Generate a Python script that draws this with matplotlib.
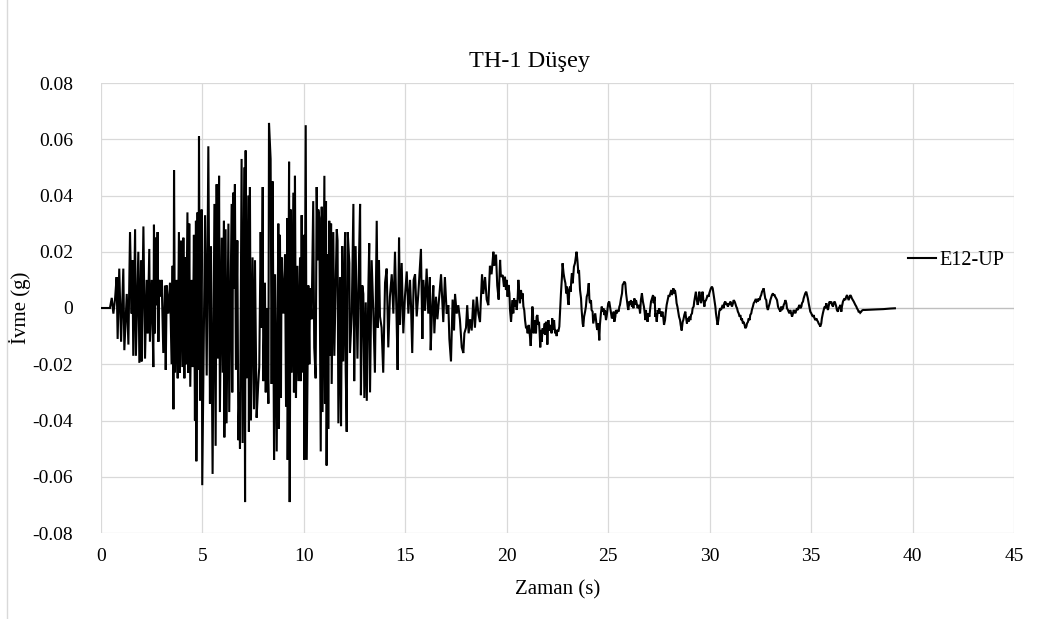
import matplotlib
matplotlib.use("Agg")
import matplotlib.pyplot as plt
from matplotlib.lines import Line2D
from matplotlib.ticker import FixedLocator, FuncFormatter

plt.rcParams["font.family"] = ["Liberation Serif", "DejaVu Serif"]

title = "TH-1 Düşey"
x_label = "Zaman (s)"
y_label = "İvme (g)"
series_name = "E12-UP"
x_ticks = [0, 5, 10, 15, 20, 25, 30, 35, 40, 45]
y_ticks = [-0.08, -0.06, -0.04, -0.02, 0.0, 0.02, 0.04, 0.06, 0.08]

# (time [s], vertical acceleration [g]) — strong-motion onset, 0–5 s
seg_0_5 = [
    (0.00, 0.0), (0.44, 0.0), (0.53, 0.0036), (0.61, -0.002), (0.69, 0.003),
    (0.77, 0.011), (0.82, -0.011), (0.90, 0.014), (0.99, -0.012), (1.10, 0.014),
    (1.15, -0.015), (1.27, 0.005), (1.35, -0.013), (1.43, 0.027), (1.51, -0.002),
    (1.55, 0.017), (1.59, -0.017), (1.68, 0.028), (1.72, -0.017), (1.84, 0.020),
    (1.89, -0.0195), (1.97, 0.017), (2.00, -0.019), (2.09, 0.029), (2.17, -0.018),
    (2.25, 0.010), (2.30, -0.009), (2.38, 0.021), (2.41, -0.012), (2.50, 0.010),
    (2.58, -0.021), (2.61, 0.0296), (2.66, -0.009), (2.71, 0.025), (2.74, 0.001),
    (2.79, 0.027), (2.83, -0.012), (2.86, 0.010), (2.94, 0.004), (2.99, 0.010),
    (3.07, -0.016), (3.15, 0.008), (3.19, -0.022), (3.24, 0.008), (3.32, -0.002),
    (3.40, 0.009), (3.48, -0.020), (3.53, 0.015), (3.57, -0.036), (3.60, 0.049),
    (3.65, -0.023), (3.73, 0.010), (3.78, -0.025), (3.84, 0.027), (3.89, -0.023),
    (3.94, 0.024), (4.01, -0.021), (4.06, 0.025), (4.11, -0.025), (4.14, 0.018),
    (4.19, -0.020), (4.26, 0.034), (4.30, -0.023), (4.35, 0.030), (4.40, -0.028),
    (4.47, 0.010), (4.52, -0.021), (4.58, 0.026), (4.63, -0.040), (4.68, 0.031),
    (4.70, -0.0545), (4.76, 0.034), (4.80, -0.022), (4.83, 0.061), (4.88, -0.033),
    (4.96, 0.035), (4.99, -0.063),
]

# peak shaking, 5–10 s
seg_5_10 = [
    (5.13, 0.033), (5.21, -0.024), (5.29, 0.0575), (5.37, -0.034), (5.42, 0.022),
    (5.50, -0.059), (5.59, 0.037), (5.65, -0.049), (5.70, 0.044), (5.75, -0.018),
    (5.82, 0.047), (5.86, -0.037), (5.95, 0.025), (6.00, -0.023), (6.06, 0.031),
    (6.08, -0.046), (6.14, 0.028), (6.19, -0.041), (6.28, 0.030), (6.32, -0.037),
    (6.44, 0.037), (6.47, -0.030), (6.52, 0.041), (6.55, 0.007), (6.60, 0.044),
    (6.65, -0.022), (6.72, 0.024), (6.77, -0.047), (6.82, -0.030), (6.85, -0.050),
    (6.93, 0.053), (6.98, -0.048), (7.06, 0.050), (7.10, -0.069), (7.13, 0.056),
    (7.18, -0.025), (7.26, 0.040), (7.29, -0.044), (7.34, 0.043), (7.39, -0.040),
    (7.47, 0.018), (7.54, -0.036), (7.59, 0.017), (7.67, -0.039), (7.75, -0.027),
    (7.80, -0.021), (7.87, 0.027), (7.92, -0.007), (7.97, 0.043), (8.00, -0.026),
    (8.08, 0.009), (8.12, -0.030), (8.17, 0.0), (8.25, -0.034), (8.28, 0.0658),
    (8.36, 0.053), (8.41, -0.027), (8.46, 0.045), (8.53, -0.054), (8.58, 0.012),
    (8.66, -0.051), (8.74, 0.030), (8.77, -0.043), (8.82, 0.026), (8.87, -0.032),
    (8.90, 0.018), (8.99, -0.002), (9.07, 0.019), (9.12, -0.035), (9.18, 0.032),
    (9.20, -0.054), (9.27, 0.052), (9.30, -0.069), (9.35, 0.035), (9.40, -0.023),
    (9.48, 0.041), (9.51, -0.030), (9.56, 0.047), (9.61, -0.032), (9.68, 0.015),
    (9.73, -0.026), (9.81, 0.018), (9.84, -0.026), (9.89, 0.033), (9.94, -0.023),
    (10.00, 0.026), (10.02, -0.054), (10.09, 0.065), (10.14, -0.054),
]

# decaying strong motion, 10–15.5 s
seg_10_15 = [
    (10.22, 0.008), (10.27, -0.020), (10.30, 0.007), (10.38, -0.004), (10.46, 0.038),
    (10.51, -0.014), (10.58, -0.025), (10.63, 0.043), (10.68, 0.017), (10.71, 0.035),
    (10.76, 0.032), (10.83, -0.051), (10.88, 0.036), (10.92, -0.037), (11.01, 0.047),
    (11.04, -0.034), (11.09, 0.038), (11.12, -0.056), (11.17, 0.019), (11.20, -0.043),
    (11.25, 0.031), (11.29, -0.017), (11.34, 0.030), (11.37, -0.027), (11.45, 0.027),
    (11.50, -0.017), (11.57, 0.010), (11.62, 0.028), (11.66, 0.024), (11.70, -0.041),
    (11.78, 0.011), (11.83, -0.042), (11.89, 0.022), (11.94, -0.019), (12.03, 0.027),
    (12.06, -0.022), (12.11, -0.044), (12.16, 0.027), (12.24, 0.016), (12.27, -0.016),
    (12.36, -0.002), (12.44, 0.037), (12.48, -0.026), (12.55, 0.022), (12.64, -0.018),
    (12.72, 0.019), (12.77, 0.037), (12.81, -0.031), (12.88, 0.008), (12.93, 0.005),
    (12.98, -0.032), (13.05, 0.002), (13.10, -0.033), (13.18, 0.008), (13.22, 0.023),
    (13.26, -0.030), (13.34, 0.017), (13.42, -0.001), (13.50, -0.023), (13.55, 0.007),
    (13.59, 0.031), (13.64, -0.007), (13.70, 0.017), (13.75, -0.003), (13.83, -0.007),
    (13.91, -0.023), (14.00, 0.009), (14.08, 0.014), (14.16, -0.014), (14.24, 0.004),
    (14.33, 0.012), (14.41, -0.002), (14.49, 0.020), (14.57, -0.004), (14.62, -0.022),
    (14.69, 0.025), (14.74, -0.006), (14.82, 0.016), (14.90, -0.009), (14.98, 0.004),
    (15.07, 0.013), (15.15, -0.002), (15.23, 0.010), (15.28, 0.001), (15.34, -0.016),
    (15.41, 0.010),
]

# transition to long-period motion, 15.5–19.6 s
seg_15_19 = [
    (15.48, 0.012), (15.56, -0.003), (15.64, 0.005), (15.72, 0.015), (15.77, 0.021),
    (15.84, -0.011), (15.89, 0.010), (15.97, -0.001), (16.05, 0.014), (16.13, -0.002),
    (16.21, 0.011), (16.25, -0.015), (16.31, -0.002), (16.38, 0.008), (16.43, -0.009),
    (16.51, 0.004), (16.58, -0.004), (16.68, 0.005), (16.76, 0.012), (16.81, 0.004),
    (16.87, -0.005), (16.95, 0.011), (17.04, -0.002), (17.12, 0.001), (17.17, -0.011),
    (17.25, -0.019), (17.33, 0.003), (17.40, -0.008), (17.45, 0.005), (17.53, -0.002),
    (17.61, 0.001), (17.69, -0.004), (17.78, -0.014), (17.86, -0.016), (17.91, -0.009),
    (17.99, -0.007), (18.05, 0.001), (18.12, -0.009), (18.19, -0.004), (18.27, -0.008),
    (18.35, 0.003), (18.43, -0.007), (18.52, 0.004), (18.60, -0.002), (18.68, -0.005),
    (18.73, 0.004), (18.78, 0.012), (18.84, 0.005), (18.93, 0.011), (19.01, 0.003),
    (19.09, 0.001), (19.17, 0.015), (19.25, 0.012), (19.34, 0.020), (19.38, 0.015),
    (19.47, 0.019), (19.53, 0.008), (19.60, 0.003),
]

# coda, 19.7–26.5 s
seg_19_26 = [
    (19.67, 0.0171), (19.71, 0.0111), (19.80, 0.0117), (19.86, 0.0076), (19.91, 0.0111),
    (19.96, 0.0064), (19.99, 0.0100), (20.04, 0.0040), (20.08, 0.0082), (20.13, 0.0052),
    (20.16, -0.0007), (20.21, -0.0049), (20.26, 0.0005), (20.29, 0.0028), (20.32, -0.0019),
    (20.36, 0.0034), (20.40, 0.0005), (20.45, 0.0028), (20.49, -0.0007), (20.54, 0.0040),
    (20.57, 0.0100), (20.62, 0.0046), (20.65, 0.0017), (20.70, 0.0064), (20.75, 0.0034),
    (20.78, 0.0052), (20.82, 0.0005), (20.86, -0.0007), (20.90, -0.0043), (20.95, -0.0072),
    (20.98, -0.0066), (21.03, -0.0090), (21.08, -0.0060), (21.11, -0.0078), (21.14, -0.0100),
    (21.18, -0.0135), (21.23, -0.0055), (21.26, 0.0005), (21.29, -0.0013), (21.32, -0.0090),
    (21.36, -0.0078), (21.39, -0.0043), (21.44, -0.0090), (21.47, -0.0031), (21.51, -0.0025),
    (21.55, -0.0060), (21.59, -0.0049), (21.62, -0.0090), (21.65, -0.0140), (21.69, -0.0078),
    (21.72, -0.0120), (21.77, -0.0072), (21.80, -0.0090), (21.83, -0.0078), (21.87, -0.0055),
    (21.90, -0.0096), (21.93, -0.0049), (21.97, -0.0072), (22.00, -0.0130), (22.05, -0.0043),
    (22.08, -0.0078), (22.13, -0.0078), (22.16, -0.0060), (22.21, -0.0090), (22.24, -0.0037),
    (22.29, -0.0078), (22.33, -0.0043), (22.38, -0.0090), (22.41, -0.0078), (22.46, -0.0100),
    (22.49, -0.0078), (22.54, -0.0084), (22.59, -0.0066), (22.62, -0.0019), (22.67, 0.0052),
    (22.72, 0.0111), (22.75, 0.0159), (22.80, 0.0123), (22.84, 0.0105), (22.89, 0.0088),
    (22.93, 0.0052), (22.97, 0.0076), (23.02, 0.0023), (23.05, 0.0011), (23.08, 0.0064),
    (23.12, 0.0076), (23.15, 0.0058), (23.18, 0.0100), (23.21, 0.0123), (23.25, 0.0088),
    (23.28, 0.0117), (23.31, 0.0147), (23.36, 0.0159), (23.41, 0.0183), (23.44, 0.0200),
    (23.48, 0.0171), (23.53, 0.0123), (23.56, 0.0135), (23.61, 0.0064), (23.66, 0.0034),
    (23.69, -0.0007), (23.74, -0.0055), (23.77, -0.0066), (23.81, -0.0031), (23.86, -0.0013),
    (23.90, 0.0005), (23.94, 0.0040), (23.99, 0.0052), (24.04, 0.0088), (24.07, 0.0034),
    (24.10, 0.0017), (24.15, 0.0028), (24.18, -0.0007), (24.23, -0.0013), (24.26, -0.0055),
    (24.31, -0.0037), (24.36, -0.0019), (24.40, -0.0043), (24.43, -0.0066), (24.46, -0.0078),
    (24.51, -0.0055), (24.56, -0.0115), (24.59, -0.0060), (24.64, -0.0019), (24.68, 0.0005),
    (24.73, -0.0013), (24.76, -0.0001), (24.81, -0.0025), (24.84, -0.0007), (24.89, -0.0043),
    (24.92, -0.0031), (24.97, -0.0001), (25.00, 0.0017), (25.05, 0.0023), (25.09, 0.0005),
    (25.14, -0.0019), (25.18, -0.0037), (25.22, -0.0031), (25.27, -0.0013), (25.30, -0.0049),
    (25.35, -0.0031), (25.38, -0.0007), (25.43, -0.0019), (25.46, -0.0007), (25.51, -0.0013),
    (25.55, 0.0005), (25.58, 0.0011), (25.63, 0.0034), (25.68, 0.0052), (25.71, 0.0082),
    (25.76, 0.0088), (25.79, 0.0094), (25.84, 0.0088), (25.88, 0.0052), (25.91, 0.0034),
    (25.96, 0.0005), (25.99, -0.0007), (26.04, 0.0023), (26.07, 0.0011), (26.12, 0.0028),
    (26.17, 0.0005), (26.20, 0.0023), (26.24, -0.0001), (26.29, 0.0034), (26.34, 0.0011),
    (26.37, 0.0028), (26.42, 0.0011), (26.45, -0.0001), (26.50, 0.0011), (26.53, 0.0005),
]

# late coda, 26.6–32.7 s
seg_26_32 = [
    (26.57, -0.0019), (26.61, 0.0028), (26.66, 0.0052), (26.71, 0.0023), (26.76, 0.0005),
    (26.80, -0.0019), (26.83, -0.0043), (26.86, -0.0007), (26.89, -0.0031), (26.94, -0.0049),
    (26.98, -0.0019), (27.03, -0.0031), (27.07, -0.0001), (27.11, 0.0023), (27.16, 0.0034),
    (27.21, 0.0046), (27.24, 0.0017), (27.29, 0.0040), (27.32, -0.0031), (27.35, -0.0019),
    (27.39, -0.0049), (27.44, -0.0007), (27.47, -0.0019), (27.52, -0.0001), (27.55, -0.0019),
    (27.58, -0.0013), (27.63, -0.0031), (27.67, -0.0013), (27.72, -0.0037), (27.75, -0.0060),
    (27.80, -0.0043), (27.83, -0.0019), (27.88, 0.0011), (27.93, 0.0028), (27.98, 0.0046),
    (28.01, 0.0040), (28.06, 0.0052), (28.11, 0.0064), (28.14, 0.0046), (28.18, 0.0058),
    (28.21, 0.0070), (28.26, 0.0052), (28.29, 0.0064), (28.34, 0.0040), (28.37, 0.0017),
    (28.41, 0.0005), (28.45, -0.0013), (28.49, -0.0031), (28.54, -0.0043), (28.57, -0.0060),
    (28.62, -0.0080), (28.67, -0.0049), (28.70, -0.0043), (28.75, -0.0025), (28.80, -0.0013),
    (28.83, -0.0031), (28.88, -0.0055), (28.91, -0.0037), (28.96, -0.0049), (28.98, -0.0031),
    (29.05, -0.0043), (29.08, -0.0025), (29.13, -0.0019), (29.16, -0.0001), (29.21, 0.0005),
    (29.24, 0.0023), (29.29, 0.0046), (29.32, 0.0058), (29.37, 0.0028), (29.41, 0.0011),
    (29.46, 0.0034), (29.49, 0.0058), (29.54, 0.0034), (29.57, 0.0017), (29.62, 0.0046),
    (29.65, 0.0058), (29.69, 0.0028), (29.74, 0.0005), (29.77, 0.0023), (29.82, 0.0028),
    (29.85, 0.0034), (29.90, 0.0046), (29.95, 0.0040), (29.98, 0.0052), (30.03, 0.0064),
    (30.06, 0.0070), (30.11, 0.0076), (30.15, 0.0070), (30.20, 0.0046), (30.23, 0.0034),
    (30.28, 0.0005), (30.31, -0.0019), (30.36, -0.0043), (30.39, -0.0060), (30.44, -0.0037),
    (30.47, -0.0013), (30.52, -0.0001), (30.56, -0.0007), (30.61, 0.0005), (30.64, 0.0011),
    (30.69, -0.0001), (30.72, 0.0017), (30.77, 0.0023), (30.82, 0.0011), (30.85, 0.0017),
    (30.90, 0.0005), (30.93, 0.0017), (30.98, 0.0011), (31.02, 0.0023), (31.07, 0.0011),
    (31.10, 0.0005), (31.15, 0.0017), (31.18, 0.0028), (31.23, 0.0023), (31.26, 0.0017),
    (31.31, 0.0005), (31.35, -0.0001), (31.39, -0.0013), (31.43, -0.0019), (31.48, -0.0031),
    (31.51, -0.0025), (31.56, -0.0043), (31.59, -0.0037), (31.64, -0.0055), (31.67, -0.0049),
    (31.72, -0.0060), (31.76, -0.0072), (31.81, -0.0066), (31.84, -0.0055), (31.89, -0.0049),
    (31.92, -0.0037), (31.97, -0.0043), (32.00, -0.0025), (32.05, -0.0019), (32.08, -0.0007),
    (32.13, 0.0005), (32.17, 0.0017), (32.22, 0.0023), (32.25, 0.0028), (32.30, 0.0023),
    (32.33, 0.0028), (32.38, 0.0023), (32.41, 0.0034), (32.46, 0.0028), (32.50, 0.0040),
    (32.54, 0.0046), (32.58, 0.0058), (32.63, 0.0064), (32.66, 0.0070),
]

# tail of the record, 32.7–39.1 s
seg_32_39 = [
    (32.71, 0.0046), (32.74, 0.0034), (32.79, 0.0028), (32.82, 0.0005), (32.87, -0.0007),
    (32.91, 0.0005), (32.96, 0.0017), (32.99, 0.0028), (33.04, 0.0040), (33.07, 0.0046),
    (33.12, 0.0052), (33.15, 0.0046), (33.20, 0.0046), (33.23, 0.0040), (33.28, 0.0034),
    (33.32, 0.0028), (33.37, 0.0005), (33.40, -0.0001), (33.45, -0.0007), (33.48, -0.0013),
    (33.53, 0.0005), (33.56, -0.0007), (33.61, -0.0001), (33.65, 0.0011), (33.69, 0.0017),
    (33.73, 0.0028), (33.78, 0.0017), (33.81, -0.0001), (33.86, -0.0007), (33.89, -0.0013),
    (33.94, -0.0019), (33.97, -0.0007), (34.02, -0.0019), (34.06, -0.0031), (34.11, -0.0019),
    (34.14, -0.0007), (34.19, -0.0013), (34.22, -0.0019), (34.27, -0.0007), (34.30, -0.0001),
    (34.35, -0.0007), (34.39, 0.0005), (34.43, 0.0011), (34.47, -0.0001), (34.52, 0.0005),
    (34.55, 0.0017), (34.60, 0.0023), (34.63, 0.0034), (34.68, 0.0046), (34.71, 0.0052),
    (34.76, 0.0058), (34.80, 0.0046), (34.84, 0.0034), (34.88, 0.0017), (34.93, -0.0001),
    (34.96, -0.0013), (35.01, -0.0019), (35.04, -0.0025), (35.09, -0.0031), (35.12, -0.0025),
    (35.17, -0.0037), (35.21, -0.0043), (35.26, -0.0037), (35.29, -0.0043), (35.34, -0.0049),
    (35.37, -0.0055), (35.42, -0.0060), (35.45, -0.0066), (35.50, -0.0055), (35.53, -0.0037),
    (35.58, -0.0019), (35.62, -0.0007), (35.67, 0.0005), (35.70, -0.0001), (35.75, 0.0017),
    (35.78, 0.0005), (35.83, -0.0007), (35.86, 0.0005), (35.91, 0.0023), (35.94, 0.0017),
    (35.99, 0.0023), (36.03, 0.0011), (36.08, 0.0005), (36.11, 0.0017), (36.16, 0.0023),
    (36.19, 0.0017), (36.24, 0.0005), (36.27, -0.0007), (36.32, -0.0013), (36.36, -0.0001),
    (36.41, 0.0005), (36.44, 0.0011), (36.49, -0.0013), (36.52, 0.0005), (36.57, 0.0023),
    (36.60, 0.0028), (36.65, 0.0034), (36.68, 0.0028), (36.73, 0.0040), (36.77, 0.0046),
    (36.82, 0.0034), (36.85, 0.0028), (36.90, 0.0040), (36.93, 0.0046), (36.98, 0.0040),
    (37.01, 0.0034), (37.06, 0.0028), (37.10, 0.0023), (37.14, 0.0017), (37.18, 0.0011),
    (37.23, 0.0005), (37.26, -0.0001), (37.31, -0.0007), (37.34, -0.0013), (37.39, -0.0013),
    (37.42, -0.0017), (37.47, -0.0013), (37.51, -0.0009), (37.56, -0.0007), (37.65, -0.0007),
    (37.90, -0.0006), (38.23, -0.0005), (38.56, -0.0004), (38.89, -0.0002), (39.13, -0.0001),
]

record = seg_0_5 + seg_5_10 + seg_10_15 + seg_15_19 + seg_19_26 + seg_26_32 + seg_32_39
time_s = [p[0] for p in record]
accel_g = [p[1] for p in record]

W, H = 1059, 619
fig = plt.figure(figsize=(W / 100, H / 100), dpi=100)
fig.patch.set_facecolor("white")

# plot area in pixel terms: left 101, right 1014, top 83, bottom 533
ax = fig.add_axes([101 / W, 1 - 533 / H, 913 / W, 450 / H])

grid_color = "#d9d9d9"
ax.set_xlim(0, 45)
ax.set_ylim(-0.08, 0.08)
ax.xaxis.set_major_locator(FixedLocator(x_ticks))
ax.yaxis.set_major_locator(FixedLocator(y_ticks))
ax.yaxis.set_major_formatter(FuncFormatter(lambda v, _: "0" if abs(v) < 1e-9 else f"{v:.2f}"))
ax.xaxis.set_major_formatter(FuncFormatter(lambda v, _: f"{v:g}"))
ax.grid(True, color=grid_color, linewidth=0.9, zorder=0)
ax.set_axisbelow(True)
for s in ax.spines.values():
    s.set_visible(False)
ax.axhline(0, color="#bfbfbf", linewidth=0.9, zorder=1)

ax.tick_params(axis="both", length=0, labelsize=14, colors="black")
ax.tick_params(axis="y", pad=20)
ax.tick_params(axis="x", pad=11)

ax.plot(time_s, accel_g, color="black", linewidth=1.5, label=series_name,
        zorder=3, solid_joinstyle="miter")

fig.suptitle(title, x=0.5, y=1 - 61 / H, va="center", fontsize=17.5)
ax.set_xlabel(x_label, fontsize=15, va="center")
ax.xaxis.set_label_coords(0.5, (533 - 590) / 450)
ax.set_ylabel(y_label, fontsize=15, va="center")
ax.yaxis.set_label_coords((20 - 101) / 913, 0.5)

ax.legend(loc="center left", bbox_to_anchor=((908 - 101) / 913, (533 - 260) / 450),
          frameon=False, fontsize=14.5, handlelength=1.4, handletextpad=0.15,
          borderpad=0, borderaxespad=0)

# thin chart-area edge at the left
fig.add_artist(Line2D([7 / W, 7 / W], [0, 1], transform=fig.transFigure,
                      color=grid_color, linewidth=1))

fig.savefig("out.png", dpi=100)
